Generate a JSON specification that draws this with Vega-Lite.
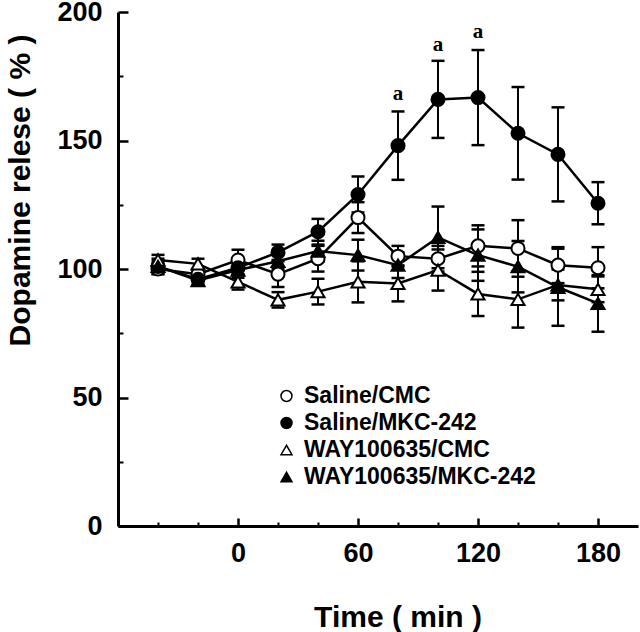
{
  "$schema": "https://vega.github.io/schema/vega-lite/v6.json",
  "width": 520,
  "height": 514,
  "autosize": {"type": "none"},
  "padding": {"left": 118, "top": 12, "right": 2, "bottom": 106},
  "background": "white",
  "config": {
    "view": {"stroke": null},
    "axis": {"grid": false, "domainColor": "black", "tickColor": "black", "labelColor": "black", "titleColor": "black"}
  },
  "datasets": {
    "series": [
      {"g": "Saline/CMC", "t": -40, "v": 100, "lo": 98, "hi": 102},
      {"g": "Saline/CMC", "t": -20, "v": 98, "lo": 96, "hi": 100},
      {"g": "Saline/CMC", "t": 0, "v": 103.5, "lo": 99.5, "hi": 107.5},
      {"g": "Saline/CMC", "t": 20, "v": 98, "lo": 93, "hi": 103},
      {"g": "Saline/CMC", "t": 40, "v": 104, "lo": 99, "hi": 109},
      {"g": "Saline/CMC", "t": 60, "v": 120, "lo": 114, "hi": 126},
      {"g": "Saline/CMC", "t": 80, "v": 105, "lo": 101, "hi": 109},
      {"g": "Saline/CMC", "t": 100, "v": 104, "lo": 99, "hi": 109},
      {"g": "Saline/CMC", "t": 120, "v": 109, "lo": 101, "hi": 117},
      {"g": "Saline/CMC", "t": 140, "v": 108, "lo": 97, "hi": 119},
      {"g": "Saline/CMC", "t": 160, "v": 101.5, "lo": 94.5, "hi": 108.5},
      {"g": "Saline/CMC", "t": 180, "v": 100.5, "lo": 92.5, "hi": 108.5},
      {"g": "Saline/MKC-242", "t": -40, "v": 101, "lo": 99, "hi": 103},
      {"g": "Saline/MKC-242", "t": -20, "v": 96, "lo": 94, "hi": 98},
      {"g": "Saline/MKC-242", "t": 0, "v": 100.5, "lo": 97.5, "hi": 103.5},
      {"g": "Saline/MKC-242", "t": 20, "v": 106.5, "lo": 103.5, "hi": 109.5},
      {"g": "Saline/MKC-242", "t": 40, "v": 114.5, "lo": 109.5, "hi": 119.5},
      {"g": "Saline/MKC-242", "t": 60, "v": 129, "lo": 122, "hi": 136},
      {"g": "Saline/MKC-242", "t": 80, "v": 148, "lo": 134.7, "hi": 161.3},
      {"g": "Saline/MKC-242", "t": 100, "v": 166, "lo": 151, "hi": 181},
      {"g": "Saline/MKC-242", "t": 120, "v": 166.7, "lo": 148.2, "hi": 185.2},
      {"g": "Saline/MKC-242", "t": 140, "v": 152.8, "lo": 134.8, "hi": 170.8},
      {"g": "Saline/MKC-242", "t": 160, "v": 144.6, "lo": 126.3, "hi": 162.9},
      {"g": "Saline/MKC-242", "t": 180, "v": 125.6, "lo": 117.4, "hi": 133.8},
      {"g": "WAY100635/CMC", "t": -40, "v": 103.5, "lo": 101.5, "hi": 105.5},
      {"g": "WAY100635/CMC", "t": -20, "v": 102, "lo": 100, "hi": 104},
      {"g": "WAY100635/CMC", "t": 0, "v": 95, "lo": 92, "hi": 98},
      {"g": "WAY100635/CMC", "t": 20, "v": 88, "lo": 85, "hi": 91},
      {"g": "WAY100635/CMC", "t": 40, "v": 91.2, "lo": 86.2, "hi": 96.2},
      {"g": "WAY100635/CMC", "t": 60, "v": 95, "lo": 87, "hi": 103},
      {"g": "WAY100635/CMC", "t": 80, "v": 94.4, "lo": 87.4, "hi": 101.4},
      {"g": "WAY100635/CMC", "t": 100, "v": 99.6, "lo": 91.6, "hi": 107.6},
      {"g": "WAY100635/CMC", "t": 120, "v": 90.3, "lo": 81.7, "hi": 98.9},
      {"g": "WAY100635/CMC", "t": 140, "v": 88.2, "lo": 77.2, "hi": 99.2},
      {"g": "WAY100635/CMC", "t": 160, "v": 93.8, "lo": 87.8, "hi": 99.8},
      {"g": "WAY100635/CMC", "t": 180, "v": 92.1, "lo": 87.1, "hi": 97.1},
      {"g": "WAY100635/MKC-242", "t": -40, "v": 101, "lo": 98, "hi": 104},
      {"g": "WAY100635/MKC-242", "t": -20, "v": 95.5, "lo": 93.5, "hi": 97.5},
      {"g": "WAY100635/MKC-242", "t": 0, "v": 99.6, "lo": 96.6, "hi": 102.6},
      {"g": "WAY100635/MKC-242", "t": 20, "v": 103, "lo": 100, "hi": 106},
      {"g": "WAY100635/MKC-242", "t": 40, "v": 107, "lo": 103, "hi": 111},
      {"g": "WAY100635/MKC-242", "t": 60, "v": 105.4, "lo": 99.4, "hi": 111.4},
      {"g": "WAY100635/MKC-242", "t": 80, "v": 101.5, "lo": 96.5, "hi": 106.5},
      {"g": "WAY100635/MKC-242", "t": 100, "v": 112.3, "lo": 100.3, "hi": 124.3},
      {"g": "WAY100635/MKC-242", "t": 120, "v": 105.4, "lo": 95.4, "hi": 115.4},
      {"g": "WAY100635/MKC-242", "t": 140, "v": 100.9, "lo": 90.9, "hi": 110.9},
      {"g": "WAY100635/MKC-242", "t": 160, "v": 92.9, "lo": 77.9, "hi": 107.9},
      {"g": "WAY100635/MKC-242", "t": 180, "v": 86.6, "lo": 75.6, "hi": 97.6}
    ],
    "notes": [
      {"t": 80, "v": 165.8, "label": "a"},
      {"t": 100, "v": 184.8, "label": "a"},
      {"t": 120, "v": 189.9, "label": "a"}
    ]
  },
  "layer": [
    {
      "data": {"name": "series"},
      "mark": {"type": "rule", "color": "black", "strokeWidth": 2},
      "encoding": {
        "x": {"field": "t", "type": "quantitative", "scale": {"domain": [-60, 200], "nice": false, "zero": false},
          "axis": {"orient": "bottom", "values": [-40, -20, 20, 40, 80, 100, 140, 160], "labels": false, "domain": false, "tickSize": -4, "tickWidth": 2, "title": null}},
        "y": {"field": "lo", "type": "quantitative", "scale": {"domain": [0, 200], "nice": false, "zero": false},
          "axis": {"orient": "left", "values": [25, 75, 125, 175], "labels": false, "domain": false, "tickSize": -5, "tickWidth": 2, "title": null}},
        "y2": {"field": "hi"}
      }
    },
    {
      "data": {"name": "series"},
      "mark": {"type": "tick", "orient": "horizontal", "color": "black", "size": 13, "thickness": 2.5, "opacity": 1},
      "encoding": {
        "x": {"field": "t", "type": "quantitative", "scale": {"domain": [-60, 200], "nice": false, "zero": false}, "axis": null},
        "y": {"field": "lo", "type": "quantitative", "scale": {"domain": [0, 200], "nice": false, "zero": false}, "axis": null}
      }
    },
    {
      "data": {"name": "series"},
      "mark": {"type": "tick", "orient": "horizontal", "color": "black", "size": 13, "thickness": 2.5, "opacity": 1},
      "encoding": {
        "x": {"field": "t", "type": "quantitative", "scale": {"domain": [-60, 200], "nice": false, "zero": false}, "axis": null},
        "y": {"field": "hi", "type": "quantitative", "scale": {"domain": [0, 200], "nice": false, "zero": false}, "axis": null}
      }
    },
    {
      "data": {"name": "series"},
      "mark": {"type": "line", "color": "black", "strokeWidth": 2.5},
      "encoding": {
        "x": {"field": "t", "type": "quantitative", "scale": {"domain": [-60, 200], "nice": false, "zero": false}, "axis": null},
        "y": {"field": "v", "type": "quantitative", "scale": {"domain": [0, 200], "nice": false, "zero": false}, "axis": null},
        "detail": {"field": "g", "type": "nominal"}
      }
    },
    {
      "data": {"name": "series"},
      "mark": {"type": "point", "filled": true, "stroke": "black", "strokeWidth": 2, "size": 170, "opacity": 1},
      "encoding": {
        "x": {"field": "t", "type": "quantitative", "scale": {"domain": [-60, 200], "nice": false, "zero": false},
          "axis": {"orient": "bottom", "values": [0, 60, 120, 180], "tickSize": -8, "tickWidth": 2.5, "domainWidth": 3, "labelFont": "Liberation Sans", "labelFontWeight": "bold", "labelFontSize": 27, "labelPadding": 22, "labelFlush": false,
            "title": "Time ( min )", "titleFont": "Liberation Sans", "titleFontSize": 30, "titleFontWeight": "bold", "titleX": 279.5, "titleY": 100.5, "titleBaseline": "alphabetic", "titleAlign": "center"}},
        "y": {"field": "v", "type": "quantitative", "scale": {"domain": [0, 200], "nice": false, "zero": false},
          "axis": {"orient": "left", "values": [0, 50, 100, 150, 200], "tickSize": -10, "tickWidth": 2.5, "domainWidth": 3, "labelFont": "Liberation Sans", "labelFontWeight": "bold", "labelFontSize": 27, "labelPadding": 26, "labelFlush": false,
            "title": "Dopamine relese ( % )", "titleFont": "Liberation Sans", "titleFontSize": 30, "titleFontWeight": "bold", "titleAngle": 270, "titleX": -89, "titleY": 178, "titleBaseline": "alphabetic", "titleAlign": "center"}},
        "shape": {"field": "g", "type": "nominal",
          "scale": {"domain": ["Saline/CMC", "Saline/MKC-242", "WAY100635/CMC", "WAY100635/MKC-242"], "range": ["circle", "circle", "triangle-up", "triangle-up"]},
          "legend": {"title": null, "orient": "none", "legendX": 157, "legendY": 372.5, "padding": 0, "rowPadding": 3, "symbolSize": 120, "labelFont": "Liberation Sans", "labelFontWeight": "bold", "labelFontSize": 23, "labelColor": "black", "labelOffset": 6, "labelLimit": 400,
            "encode": {"symbols": {"update": {"stroke": {"value": "black"}, "strokeWidth": {"value": 2}}}}}},
        "fill": {"field": "g", "type": "nominal",
          "scale": {"domain": ["Saline/CMC", "Saline/MKC-242", "WAY100635/CMC", "WAY100635/MKC-242"], "range": ["white", "black", "white", "black"]},
          "legend": {"title": null, "orient": "none", "legendX": 157, "legendY": 372.5, "padding": 0, "rowPadding": 3, "symbolSize": 120, "labelFont": "Liberation Sans", "labelFontWeight": "bold", "labelFontSize": 23, "labelColor": "black", "labelOffset": 6, "labelLimit": 400,
            "encode": {"symbols": {"update": {"stroke": {"value": "black"}, "strokeWidth": {"value": 2}}}}}}
      }
    },
    {
      "data": {"name": "notes"},
      "mark": {"type": "text", "font": "Liberation Serif", "fontWeight": "bold", "fontSize": 21, "baseline": "alphabetic", "align": "center", "color": "black"},
      "encoding": {
        "x": {"field": "t", "type": "quantitative", "scale": {"domain": [-60, 200], "nice": false, "zero": false}, "axis": null},
        "y": {"field": "v", "type": "quantitative", "scale": {"domain": [0, 200], "nice": false, "zero": false}, "axis": null},
        "text": {"field": "label"}
      }
    }
  ],
  "resolve": {"axis": {"x": "independent", "y": "independent"}}
}
